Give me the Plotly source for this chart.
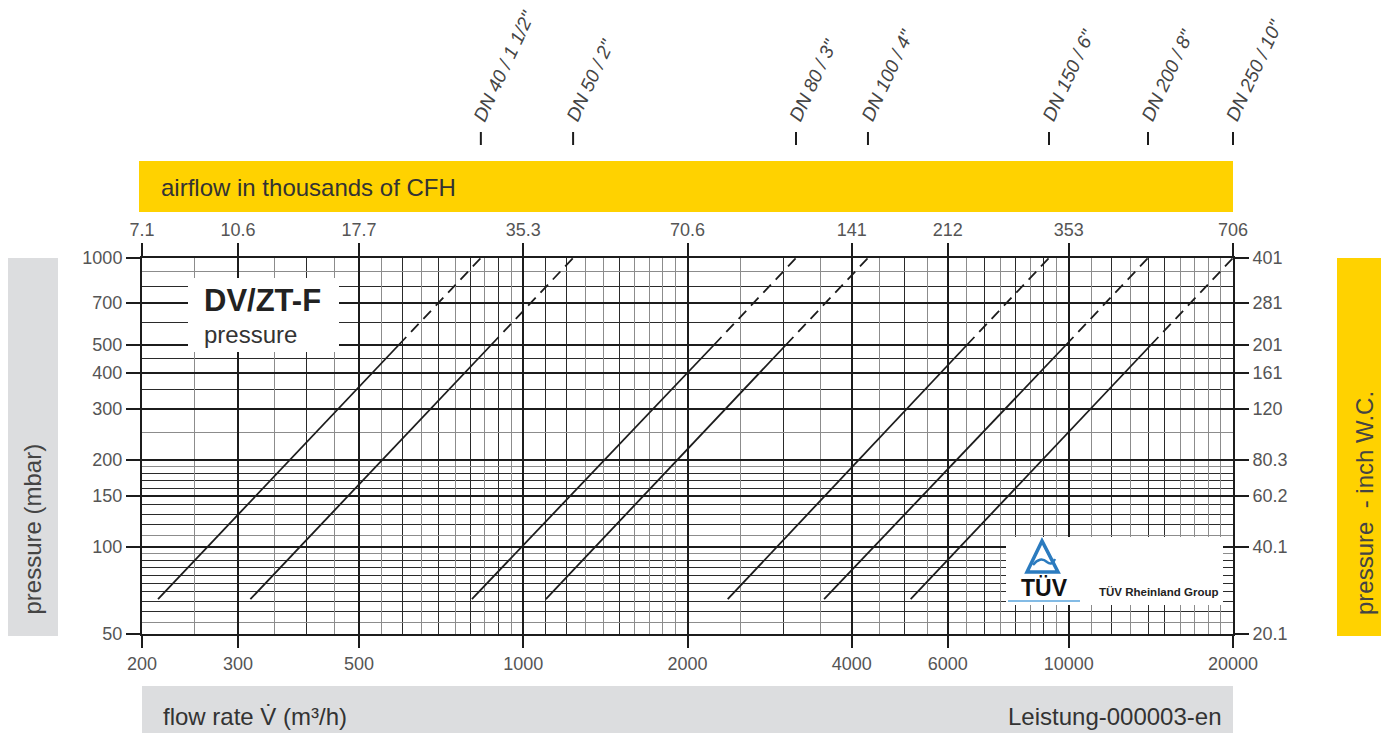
import numpy as np
import plotly.graph_objects as go

# ---------------- data ----------------
dn_labels = ['DN 40 / 1 1/2"', 'DN 50 / 2"', 'DN 80 / 3"', 'DN 100 / 4"',
             'DN 150 / 6"', 'DN 200 / 8"', 'DN 250 / 10"']
flow_start = [214, 316, 805, 1100, 2370, 3560, 5130]      # m3/h at ~66 mbar
flow_mid = [591, 873, 2236, 3029, 6504, 9880, 14140]       # m3/h at 500 mbar
flow_end = [836, 1234, 3162, 4284, 9198, 13970, 20000]     # m3/h at 1000 mbar
pressure_start = 66
pressure_mid = 500
pressure_end = 1000

flow_ticks = [200, 300, 500, 1000, 2000, 4000, 6000, 10000, 20000]
flow_ticktext = ['200', '300', '500', '1000', '2000', '4000', '6000', '10000', '20000']
cfh_ticktext = ['7.1', '10.6', '17.7', '35.3', '70.6', '141', '212', '353', '706']
pressure_ticks = [50, 100, 150, 200, 300, 400, 500, 700, 1000]
pressure_ticktext = ['50', '100', '150', '200', '300', '400', '500', '700', '1000']
inchwc_ticktext = ['20.1', '40.1', '60.2', '80.3', '120', '161', '201', '281', '401']

x_grid_dark = [400, 600, 700, 800, 900, 1100, 1200, 1500, 3000, 5000, 7000,
               8000, 9000, 12000, 14000, 15000]
x_grid_light = [250, 350, 450, 550, 650, 750, 850, 950, 1300, 1400, 1600, 1700,
                1800, 1900, 2500, 3500, 4500, 5500, 6500, 7500, 8500, 9500,
                11000, 13000, 16000, 17000, 18000, 19000]
y_grid_dark = [800, 600, 450, 350, 180, 170, 160, 140, 130, 120, 90, 85, 80,
               75, 70, 65, 60]
y_grid_light = [900, 250, 190, 110, 95, 55]

# ---------------- style ----------------
FONT = "Liberation Sans, Arial, sans-serif"
YELLOW = "#FFD200"
GREY_BAR = "#DCDDDF"
INK = "#1c1c1c"
LABEL = "#555555"

# page geometry (the html body adds an 8px margin)
OFF = 8
PAGE_W, PAGE_H = 1389, 733
L, R, T, B = 142, 1233, 258, 634          # plot area in page pixels
W, H = PAGE_W - OFF, PAGE_H - OFF


def px(x):
    return (x - L) / (R - L)


def py(y):
    return (B - y) / (B - T)


fig = go.Figure()

for i, name in enumerate(dn_labels):
    fig.add_trace(go.Scatter(
        x=[flow_start[i], flow_mid[i]], y=[pressure_start, pressure_mid],
        mode='lines', line=dict(color=INK, width=1.8),
        showlegend=False, hoverinfo='skip'))
    fig.add_trace(go.Scatter(
        x=[flow_mid[i], flow_end[i]], y=[pressure_mid, pressure_end],
        mode='lines', line=dict(color=INK, width=1.8, dash='11px,7px'),
        showlegend=False, hoverinfo='skip'))

# invisible trace to activate the top / right axes
fig.add_trace(go.Scatter(x=[flow_ticks[0]], y=[pressure_ticks[0]], xaxis='x2', yaxis='y2',
                         mode='markers', marker=dict(opacity=0), showlegend=False,
                         hoverinfo='skip'))

tickfont = dict(family=FONT, size=18, color=LABEL)
xr = [np.log10(flow_ticks[0]), np.log10(flow_ticks[-1])]
yr = [np.log10(pressure_ticks[0]), np.log10(pressure_ticks[-1])]


def xfrac(v):
    return (np.log10(v) - xr[0]) / (xr[1] - xr[0])


common = dict(type='log', showline=True, linewidth=2, linecolor=INK,
              ticks='outside', tickwidth=2, tickcolor=INK, tickfont=tickfont,
              zeroline=False, tickmode='array', fixedrange=True)

fig.update_layout(
    width=W, height=H,
    margin=dict(l=L - OFF, r=W - (R - OFF), t=T - OFF, b=H - (B - OFF), pad=0),
    paper_bgcolor='white', plot_bgcolor='white',
    font=dict(family=FONT, color=LABEL),
    xaxis=dict(range=xr, tickvals=flow_ticks, ticktext=flow_ticktext, ticklen=12,
               showgrid=True, gridcolor=INK, gridwidth=2,
               minor=dict(tickmode='array', tickvals=x_grid_dark, showgrid=True,
                          gridcolor='#2a2a2a', gridwidth=1.4, ticks=''),
               **common),
    xaxis2=dict(range=xr, overlaying='x', side='top', tickvals=flow_ticks,
                ticktext=cfh_ticktext, ticklen=13, showgrid=False,
                minor=dict(tickmode='array', tickvals=x_grid_light, showgrid=True,
                           gridcolor='#8c8c8c', gridwidth=1.2, ticks=''),
                **common),
    yaxis=dict(range=yr, tickvals=pressure_ticks, ticktext=pressure_ticktext, ticklen=14,
               showgrid=True, gridcolor=INK, gridwidth=2,
               minor=dict(tickmode='array', tickvals=y_grid_dark, showgrid=True,
                          gridcolor='#2a2a2a', gridwidth=1.4, ticks=''),
               **common),
    yaxis2=dict(range=yr, overlaying='y', side='right', tickvals=pressure_ticks,
                ticktext=inchwc_ticktext, ticklen=14, showgrid=False,
                minor=dict(tickmode='array', tickvals=y_grid_light, showgrid=True,
                           gridcolor='#8c8c8c', gridwidth=1.2, ticks=''),
                **common),
)

shapes = []


def rect(x0, y0, x1, y1, color, layer='below'):
    shapes.append(dict(type='rect', xref='paper', yref='paper',
                       x0=px(x0), x1=px(x1), y0=py(y1), y1=py(y0),
                       fillcolor=color, line=dict(width=0), layer=layer))


rect(139, 161, 1233, 212, YELLOW)          # top bar
rect(5, 258, 58, 636, GREY_BAR)            # left bar
rect(1337, 258, 1389, 636, YELLOW)         # right bar
rect(142, 686, 1233, 733, GREY_BAR)        # bottom bar
rect(188, 278, 339, 352, 'white', 'above')  # title box
rect(1006, 537, 1223, 605, 'white', 'above')  # TUV box

# DN tick marks above the chart (at the flow where each curve reaches 1000 mbar)
for f in flow_end:
    shapes.append(dict(type='line', xref='paper', yref='paper',
                       x0=xfrac(f), x1=xfrac(f), y0=py(145), y1=py(132),
                       line=dict(color=INK, width=2)))

# TUV logo
tri = 'M {} {} L {} {} L {} {} Z'.format(px(1042), py(541), px(1027), py(572),
                                         px(1058), py(572))
shapes.append(dict(type='path', xref='paper', yref='paper', path=tri,
                   line=dict(color='#2b7bbf', width=3.5), layer='above'))
wave = 'M {} {} Q {} {} {} {} Q {} {} {} {}'.format(
    px(1033), py(565), px(1040), py(556), px(1047), py(562),
    px(1052), py(566), px(1055), py(559))
shapes.append(dict(type='path', xref='paper', yref='paper', path=wave,
                   line=dict(color='#2b7bbf', width=2.5), layer='above'))
shapes.append(dict(type='line', xref='paper', yref='paper',
                   x0=px(1008), x1=px(1080), y0=py(601), y1=py(601),
                   line=dict(color='#5aa5dc', width=1.5), layer='above'))

fig.update_layout(shapes=shapes)

ann = []
# DN labels
for f, name in zip(flow_end, dn_labels):
    ann.append(dict(x=xfrac(f), xref='paper', y=py(127), yref='paper',
                    text=name, showarrow=False, textangle=-65,
                    xanchor='left', yanchor='bottom', xshift=-14,
                    font=dict(family=FONT, size=19, color='#444', style='italic')))

ann.append(dict(x=px(159), y=py(187), xref='paper', yref='paper',
                text='airflow in thousands of CFH', showarrow=False,
                xanchor='left', yanchor='middle',
                font=dict(family=FONT, size=24, color='#333')))
ann.append(dict(x=px(32), y=py(617), xref='paper', yref='paper',
                text='pressure (mbar)', showarrow=False, textangle=-90,
                xanchor='center', yanchor='bottom',
                font=dict(family=FONT, size=24, color='#444')))
ann.append(dict(x=px(1364), y=py(617), xref='paper', yref='paper',
                text='pressure\u00a0 - inch W.C.', showarrow=False, textangle=-90,
                xanchor='center', yanchor='bottom',
                font=dict(family=FONT, size=24, color='#444')))
ann.append(dict(x=px(161), y=py(716), xref='paper', yref='paper',
                text='flow rate V\u0307 (m³/h)', showarrow=False,
                xanchor='left', yanchor='middle',
                font=dict(family=FONT, size=24, color='#333')))
ann.append(dict(x=px(1224), y=py(716), xref='paper', yref='paper',
                text='Leistung-000003-en', showarrow=False,
                xanchor='right', yanchor='middle',
                font=dict(family=FONT, size=24, color='#333')))
ann.append(dict(x=px(202), y=py(300), xref='paper', yref='paper',
                text='<b>DV/ZT-F</b>', showarrow=False,
                xanchor='left', yanchor='middle',
                font=dict(family=FONT, size=31, color='#222')))
ann.append(dict(x=px(202), y=py(334), xref='paper', yref='paper',
                text='pressure', showarrow=False,
                xanchor='left', yanchor='middle',
                font=dict(family=FONT, size=24, color='#333')))
ann.append(dict(x=px(1044), y=py(588), xref='paper', yref='paper',
                text='<b>TÜV</b>', showarrow=False,
                xanchor='center', yanchor='middle',
                font=dict(family=FONT, size=23, color='#111')))
ann.append(dict(x=px(1097), y=py(592), xref='paper', yref='paper',
                text='<b>TÜV Rheinland Group</b>', showarrow=False,
                xanchor='left', yanchor='middle',
                font=dict(family=FONT, size=11.5, color='#222')))

fig.update_layout(annotations=ann)

fig.write_html("out.html")
